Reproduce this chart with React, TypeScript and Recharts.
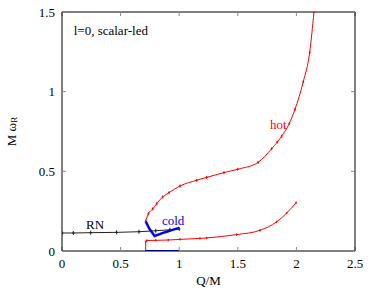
import {
  LineChart,
  Line,
  XAxis,
  YAxis,
  ReferenceDot,
} from "recharts";

// hot branch, upper part (Q/M, M omega_R)
const HOT_UPPER = [
  { x: 0.714, y: 0.188 },
  { x: 0.737, y: 0.234 },
  { x: 0.774, y: 0.264 },
  { x: 0.808, y: 0.297 },
  { x: 0.859, y: 0.339 },
  { x: 0.913, y: 0.366 },
  { x: 1.007, y: 0.408 },
  { x: 1.149, y: 0.444 },
  { x: 1.234, y: 0.462 },
  { x: 1.382, y: 0.492 },
  { x: 1.499, y: 0.513 },
  { x: 1.672, y: 0.556 },
  { x: 1.789, y: 0.642 },
  { x: 1.837, y: 0.684 },
  { x: 1.874, y: 0.72 },
  { x: 1.94, y: 0.801 },
  { x: 1.988, y: 0.889 },
  { x: 2.059, y: 1.063 },
  { x: 2.113, y: 1.245 },
  { x: 2.15, y: 1.5 },
];

// hot branch, lower part
const HOT_LOWER_STEP = [
  { x: 0.714, y: 0.0 },
  { x: 0.714, y: 0.058 },
];

const HOT_LOWER = [
  { x: 0.714, y: 0.058 },
  { x: 0.725, y: 0.066 },
  { x: 0.8, y: 0.067 },
  { x: 0.907, y: 0.069 },
  { x: 1.007, y: 0.073 },
  { x: 1.177, y: 0.079 },
  { x: 1.234, y: 0.082 },
  { x: 1.49, y: 0.103 },
  { x: 1.69, y: 0.13 },
  { x: 1.83, y: 0.182 },
  { x: 1.917, y: 0.238 },
  { x: 1.997, y: 0.303 },
];

const COLD = [
  { x: 0.714, y: 0.186 },
  { x: 0.745, y: 0.14 },
  { x: 0.79, y: 0.094 },
  { x: 0.88, y: 0.118 },
  { x: 0.95, y: 0.134 },
  { x: 1.0, y: 0.145 },
];

const COLD_ZERO = [
  { x: 0.714, y: 0 },
  { x: 0.8, y: 0 },
  { x: 0.9, y: 0 },
  { x: 1.0, y: 0 },
];

const RN = [
  { x: 0.0, y: 0.113 },
  { x: 0.097, y: 0.113 },
  { x: 0.245, y: 0.115 },
  { x: 0.466, y: 0.117 },
  { x: 0.657, y: 0.121 },
  { x: 0.8, y: 0.127 },
  { x: 0.92, y: 0.133 },
  { x: 1.0, y: 0.138 },
];

const X_TICKS = [0, 0.5, 1, 1.5, 2, 2.5];
const Y_TICKS = [0, 0.5, 1, 1.5];

const FONT = "'Liberation Serif', 'DejaVu Serif', serif";

function tickDot(color: string, size: number) {
  return (props: any) => {
    const { cx, cy, index } = props;
    if (cx == null || cy == null) return <g key={index} />;
    return (
      <g key={index}>
        <line x1={cx} y1={cy - size} x2={cx} y2={cy + size} stroke={color} strokeWidth={1} />
        <line x1={cx - size * 0.6} y1={cy} x2={cx + size * 0.6} y2={cy} stroke={color} strokeWidth={1} />
      </g>
    );
  };
}

function YLabel(props: any) {
  const { viewBox } = props;
  const cx = 11;
  const cy = viewBox.y + viewBox.height / 2;
  return (
    <text
      x={cx}
      y={cy}
      transform={`rotate(-90 ${cx} ${cy})`}
      textAnchor="middle"
      dominantBaseline="central"
      fontFamily={FONT}
      fontSize={13}
      fill="#000"
    >
      M ω<tspan fontSize={9} dy={3}>R</tspan>
    </text>
  );
}

const tickStyle = { fontSize: 13, fill: "#000", fontFamily: FONT };
const noLabel = () => <g />;

export default function App() {
  return (
    <div style={{ position: "absolute", left: 0, top: 0, width: 378, height: 291, background: "#fff" }}>
      <LineChart width={378} height={291} margin={{ top: 11, right: 22, bottom: 10, left: 12 }}>
        <XAxis
          xAxisId="b"
          type="number"
          dataKey="x"
          domain={[0, 2.5]}
          ticks={X_TICKS}
          allowDataOverflow
          height={30}
          tickSize={-4}
          tickMargin={12}
          tick={tickStyle}
          axisLine={{ stroke: "#000" }}
          tickLine={{ stroke: "#888" }}
          label={{ value: "Q/M", position: "insideBottom", offset: -4, fontSize: 13, fill: "#000", fontFamily: FONT }}
        />
        <XAxis
          xAxisId="t"
          orientation="top"
          type="number"
          dataKey="x"
          domain={[0, 2.5]}
          ticks={X_TICKS}
          allowDataOverflow
          height={1}
          tickSize={-4}
          tickMargin={0}
          tick={noLabel}
          axisLine={{ stroke: "#000" }}
          tickLine={{ stroke: "#888" }}
        />
        <YAxis
          yAxisId="l"
          type="number"
          dataKey="y"
          domain={[0, 1.5]}
          ticks={Y_TICKS}
          allowDataOverflow
          width={50}
          tickSize={-4}
          tickMargin={11}
          tick={tickStyle}
          axisLine={{ stroke: "#000" }}
          tickLine={{ stroke: "#888" }}
          label={<YLabel />}
        />
        <YAxis
          yAxisId="r"
          orientation="right"
          type="number"
          dataKey="y"
          domain={[0, 1.5]}
          ticks={Y_TICKS}
          allowDataOverflow
          width={1}
          tickSize={-4}
          tickMargin={0}
          tick={noLabel}
          axisLine={{ stroke: "#000" }}
          tickLine={{ stroke: "#888" }}
        />
        <Line
          xAxisId="t"
          yAxisId="r"
          data={COLD_ZERO}
          dataKey="y"
          stroke="none"
          dot={false}
          isAnimationActive={false}
        />
        <Line
          xAxisId="b"
          yAxisId="l"
          data={RN}
          dataKey="y"
          type="monotone"
          stroke="#222"
          strokeWidth={1}
          dot={tickDot("#222", 2)}
          isAnimationActive={false}
        />
        <Line
          xAxisId="b"
          yAxisId="l"
          data={HOT_UPPER}
          dataKey="y"
          type="monotone"
          stroke="#ff0000"
          strokeWidth={1}
          dot={tickDot("#ff0000", 1.5)}
          isAnimationActive={false}
        />
        <Line
          xAxisId="b"
          yAxisId="l"
          data={HOT_LOWER_STEP}
          dataKey="y"
          stroke="#ff0000"
          strokeWidth={1}
          dot={false}
          isAnimationActive={false}
        />
        <Line
          xAxisId="b"
          yAxisId="l"
          data={HOT_LOWER}
          dataKey="y"
          type="monotone"
          stroke="#ff0000"
          strokeWidth={1}
          dot={tickDot("#ff0000", 1.2)}
          isAnimationActive={false}
        />
        <Line
          xAxisId="b"
          yAxisId="l"
          data={COLD}
          dataKey="y"
          stroke="#0000ff"
          strokeWidth={2.5}
          dot={false}
          isAnimationActive={false}
        />
        <Line
          xAxisId="b"
          yAxisId="l"
          data={COLD_ZERO}
          dataKey="y"
          stroke="#0000ff"
          strokeWidth={2}
          dot={false}
          isAnimationActive={false}
        />
        <ReferenceDot
          xAxisId="b"
          yAxisId="l"
          x={0.1}
          y={1.385}
          r={0}
          fill="none"
          stroke="none"
          label={{ value: "l=0, scalar-led", position: "right", offset: 0, fontSize: 13, fill: "#000", fontFamily: FONT }}
        />
        <ReferenceDot
          xAxisId="b"
          yAxisId="l"
          x={1.775}
          y={0.794}
          r={0}
          fill="none"
          stroke="none"
          label={{ value: "hot", position: "right", offset: 0, fontSize: 13, fill: "#ff0000", fontFamily: FONT }}
        />
        <ReferenceDot
          xAxisId="b"
          yAxisId="l"
          x={0.853}
          y={0.195}
          r={0}
          fill="none"
          stroke="none"
          label={{ value: "cold", position: "right", offset: 0, fontSize: 13, fill: "#0000ff", fontFamily: FONT }}
        />
        <ReferenceDot
          xAxisId="b"
          yAxisId="l"
          x={0.205}
          y={0.17}
          r={0}
          fill="none"
          stroke="none"
          label={{ value: "RN", position: "right", offset: 0, fontSize: 13, fill: "#000", fontFamily: FONT }}
        />
      </LineChart>
    </div>
  );
}
